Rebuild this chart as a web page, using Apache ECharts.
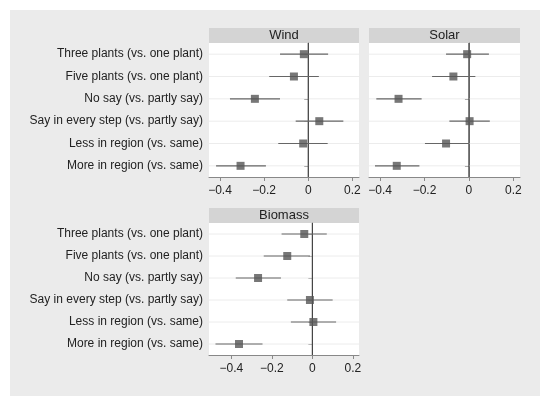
<!DOCTYPE html><html><head><meta charset="utf-8"><script src="https://cdn.jsdelivr.net/npm/echarts@6/dist/echarts.min.js"></script></head><body style="margin:0;background:#fff"><div id="c" style="width:550px;height:406px"></div><script>
const categories=["Three plants (vs. one plant)","Five plants (vs. one plant)","No say (vs. partly say)","Say in every step (vs. partly say)","Less in region (vs. same)","More in region (vs. same)"];
const windEst=[-0.02,-0.065,-0.242,0.05,-0.023,-0.307];
const windLo=[-0.128,-0.177,-0.355,-0.057,-0.136,-0.418];
const windHi=[0.09,0.048,-0.128,0.159,0.088,-0.192];
const solarEst=[-0.008,-0.07,-0.317,0.003,-0.103,-0.325];
const solarLo=[-0.103,-0.166,-0.417,-0.088,-0.198,-0.423];
const solarHi=[0.09,0.029,-0.213,0.094,0,-0.223];
const bioEst=[-0.04,-0.124,-0.268,-0.012,0.005,-0.362];
const bioLo=[-0.152,-0.24,-0.378,-0.124,-0.106,-0.478];
const bioHi=[0.071,-0.012,-0.155,0.1,0.117,-0.246];
const xTicks=[-0.4,-0.2,0,0.2];
const panels=[
 {name:"Wind",est:windEst,lo:windLo,hi:windHi,g:{left:209,top:43,width:150,height:134},min:-0.45,max:0.23,labels:true},
 {name:"Solar",est:solarEst,lo:solarLo,hi:solarHi,g:{left:369,top:43,width:151,height:134},min:-0.45,max:0.23,labels:false},
 {name:"Biomass",est:bioEst,lo:bioLo,hi:bioHi,g:{left:209,top:223,width:150,height:132},min:-0.51,max:0.23,labels:true}];
const ch=echarts.init(document.getElementById('c'));
const grid=[],xAxis=[],yAxis=[],series=[],graphic=[{type:'rect',shape:{x:10,y:10,width:530,height:386},style:{fill:'#ebebeb'},z:-10}];
panels.forEach((p,i)=>{
 grid.push(Object.assign({backgroundColor:'#fff',show:true,borderWidth:0},p.g));
 graphic.push({type:'rect',shape:{x:p.g.left,y:p.g.top-15,width:p.g.width,height:15},style:{fill:'#d4d4d4'}});
 graphic.push({type:'text',x:p.g.left+p.g.width/2,y:p.g.top-7.5,style:{text:p.name,align:'center',verticalAlign:'middle',fontSize:13,fill:'#222',fontFamily:'Liberation Sans'}});
 xAxis.push({type:'value',gridIndex:i,min:p.min,max:p.max,interval:0.2,splitLine:{show:false},
  axisLine:{show:true,onZero:false,lineStyle:{color:'#888'}},axisTick:{show:true,length:4,lineStyle:{color:'#888'},customValues:xTicks},
  axisLabel:{customValues:xTicks,color:'#222',fontSize:12,fontFamily:'Liberation Sans',formatter:v=>v==0?'0':String(v).replace('-','−')}});
 yAxis.push({type:'category',gridIndex:i,data:categories,inverse:true,boundaryGap:true,
  axisLine:{show:true,lineStyle:{color:'#888'}},axisTick:{show:true,length:4,alignWithLabel:true,lineStyle:{color:'#888'}},
  splitLine:{show:false},axisLabel:{show:p.labels,color:'#222',fontSize:12,fontFamily:'Liberation Sans',margin:6}});
 series.push({type:'custom',xAxisIndex:i,yAxisIndex:i,silent:true,data:categories.map((c,k)=>[k]),
  renderItem:(params,api)=>{const k=api.value(0);const y=api.coord([0,k])[1];
   const r=params.coordSys;
   const a=api.coord([p.lo[k],k])[0],b=api.coord([p.hi[k],k])[0];
   return {type:'line',shape:{x1:r.x,y1:y,x2:r.x+r.width,y2:y},style:{stroke:'#ececec',lineWidth:1}};}});
 series.push({type:'custom',xAxisIndex:i,yAxisIndex:i,silent:true,z:3,data:[[0]],
  renderItem:(params,api)=>{const r=params.coordSys;const x=api.coord([0,0])[0];
   return {type:'line',shape:{x1:x,y1:r.y,x2:x,y2:r.y+r.height},style:{stroke:'#444',lineWidth:1.2}};}});
 series.push({type:'custom',xAxisIndex:i,yAxisIndex:i,silent:true,z:4,data:categories.map((c,k)=>[k]),
  renderItem:(params,api)=>{const k=api.value(0);const y=api.coord([0,k])[1];
   const a=api.coord([p.lo[k],k])[0],b=api.coord([p.hi[k],k])[0];
   return {type:'line',shape:{x1:a,y1:y,x2:b,y2:y},style:{stroke:'#666',lineWidth:1.2}};}});
 series.push({type:'scatter',xAxisIndex:i,yAxisIndex:i,symbol:'rect',symbolSize:8,itemStyle:{color:'#555'},z:5,data:p.est.map((v,k)=>[v,categories[k]])});
});
ch.setOption({animation:false,grid,xAxis,yAxis,series,graphic});
</script></body></html>
